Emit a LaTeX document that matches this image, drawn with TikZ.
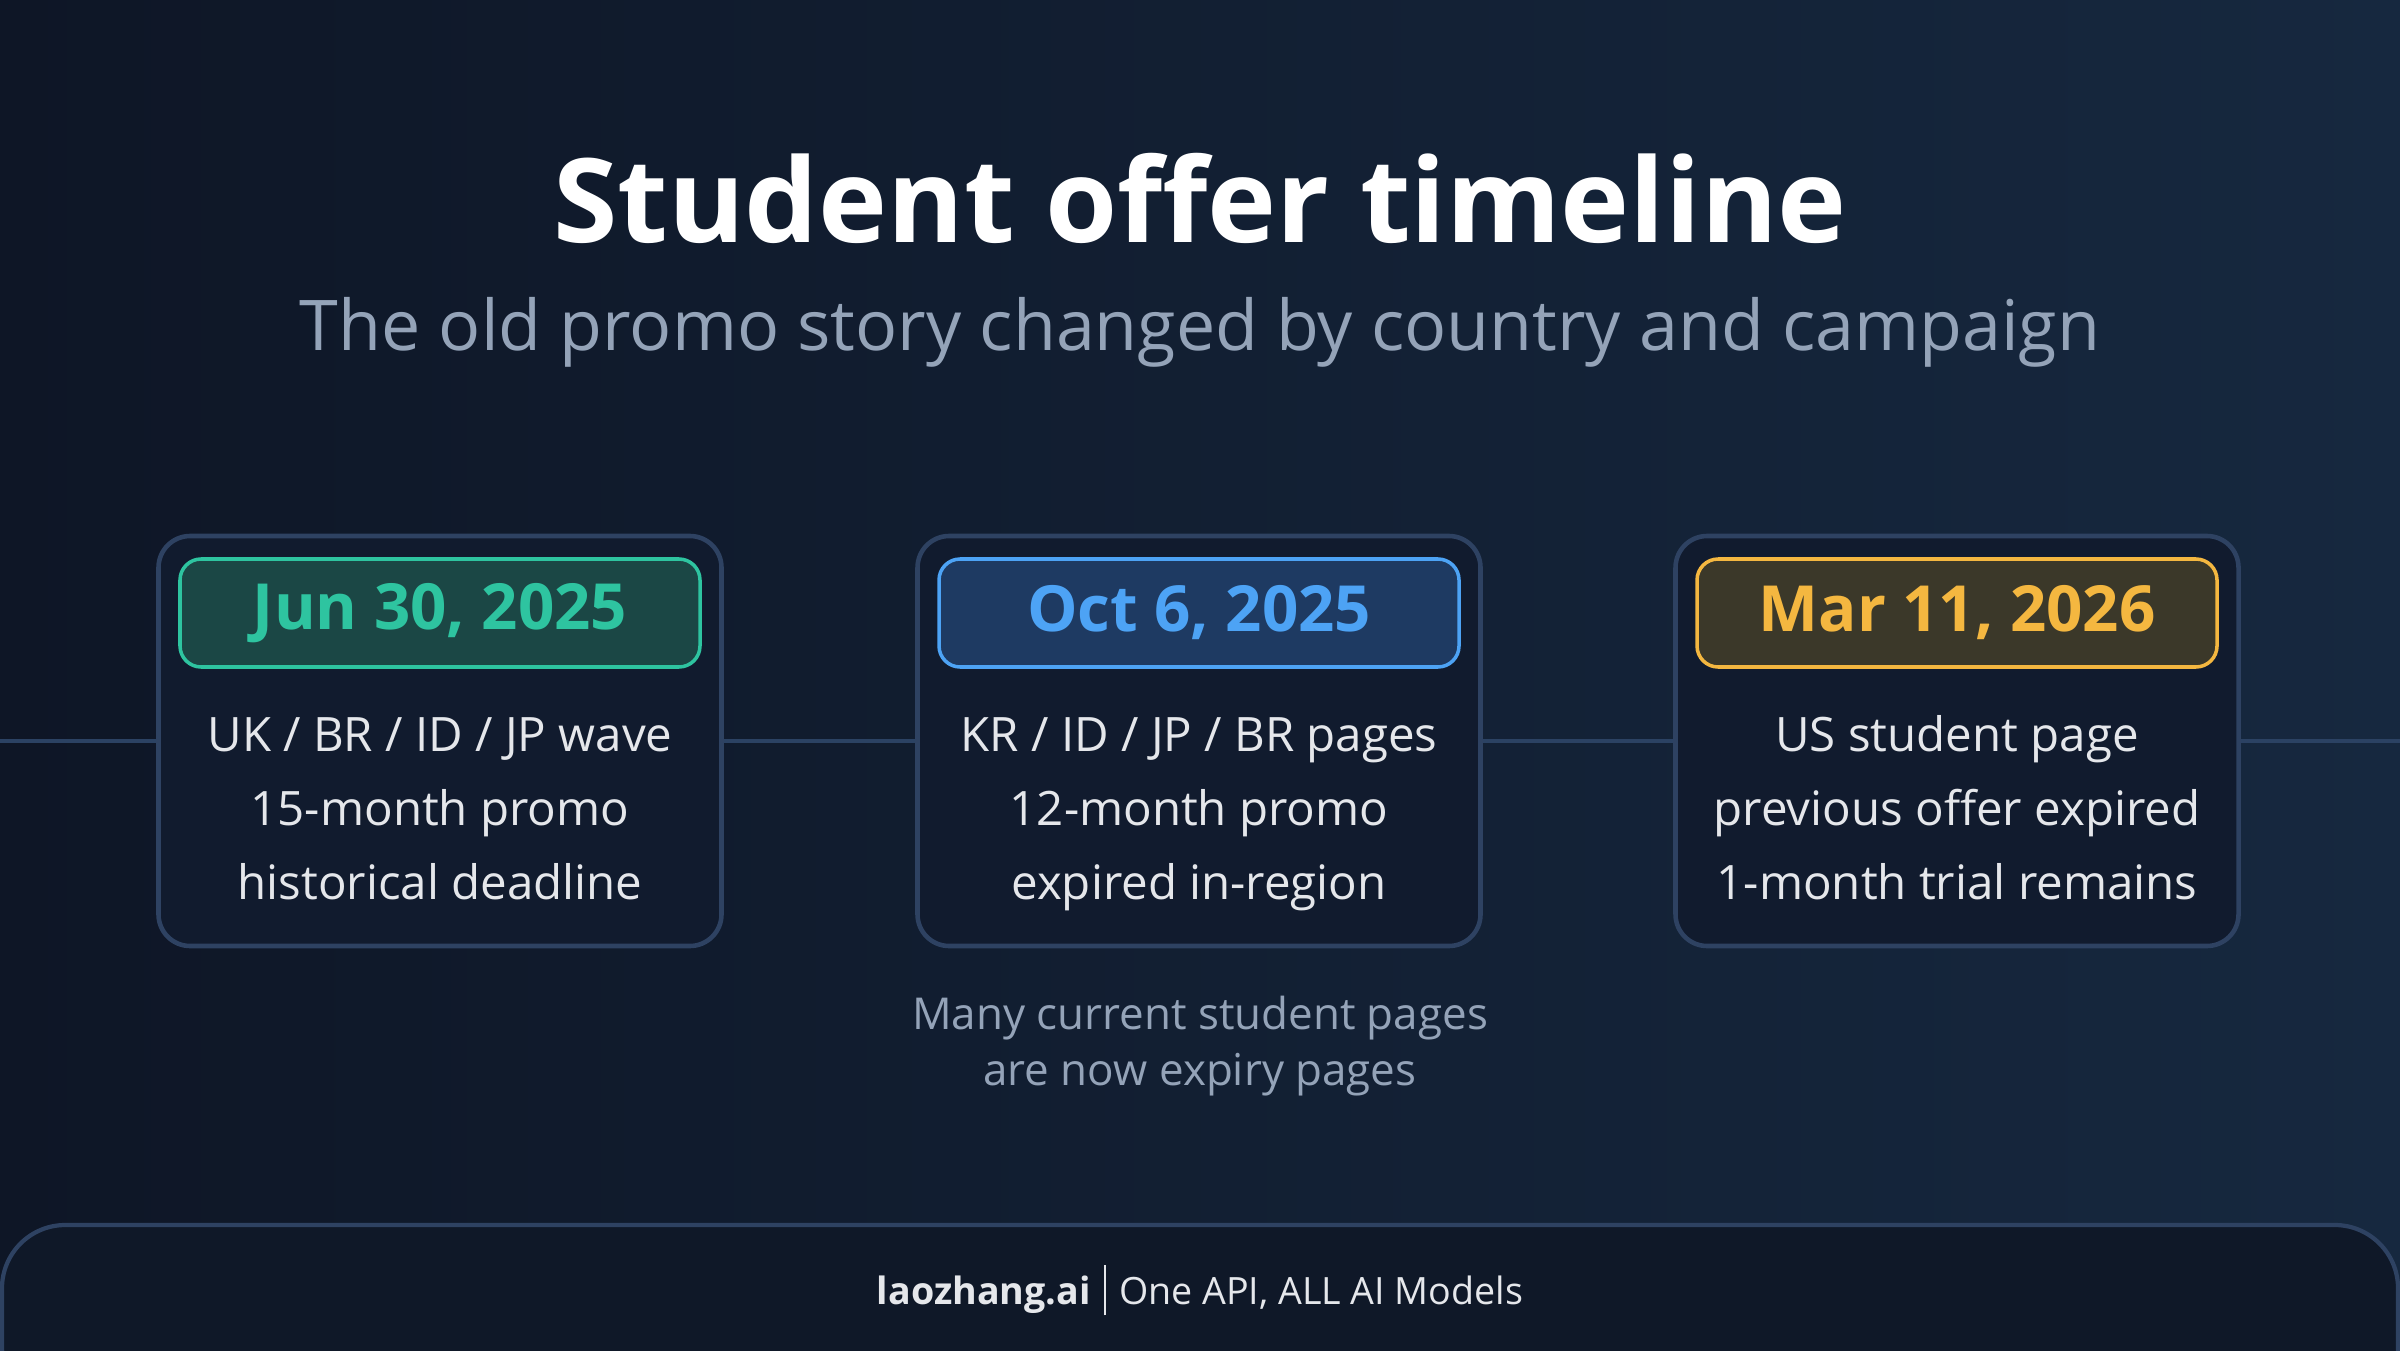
\documentclass[tikz,border=0pt]{standalone}
\usepackage{fontspec}
\setmainfont{Open Sans}
\usetikzlibrary{calc,positioning}

\definecolor{bgleft}{HTML}{0E1626}
\definecolor{bgright}{HTML}{16283F}
\definecolor{cardfill}{HTML}{111B2E}
\definecolor{cardedge}{HTML}{2E4262}
\definecolor{tline}{HTML}{2B4263}
\definecolor{subgray}{HTML}{94A3B8}
\definecolor{bodytext}{HTML}{E5E7EB}
\definecolor{tealtxt}{HTML}{2EC4A0}
\definecolor{tealfill}{HTML}{1B4745}
\definecolor{bluetxt}{HTML}{4DA3F5}
\definecolor{bluefill}{HTML}{1E3A62}
\definecolor{goldtxt}{HTML}{F4B740}
\definecolor{goldfill}{HTML}{3B3829}
\definecolor{footfill}{HTML}{0F1828}

\newcommand{\threelines}[3]{\strut #1\\#2\\#3\strut}

\begin{document}
\begin{tikzpicture}
        \tikzstyle{card} = [draw=cardedge, line width=1.3pt, fill=cardfill, rounded corners=9pt, minimum width=5.63cm, minimum height=4.1cm]
        \tikzstyle{datebox} = [line width=1pt, rounded corners=6pt, minimum width=5.2cm, minimum height=1.08cm, font=\fontsize{18.1}{21}\selectfont\bfseries]
        \tikzstyle{body} = [align=center, text=bodytext, font=\fontsize{13.5}{21}\selectfont]
        \tikzstyle{tlink} = [draw=tline, line width=1.3pt]

        % background
        \shade[left color=bgleft, right color=bgright] (0,0) rectangle (24,13.5);
        \useasboundingbox (0,0) rectangle (24,13.5);

        \node[text=white, font=\fontsize{33.2}{40}\selectfont\bfseries] (title) at (12,11.52) {Student offer timeline};
        \node[text=subgray, font=\fontsize{19.9}{24}\selectfont] (subtitle) at (12,10.18) {The old promo story changed by country and campaign};

        % cards
        \node[card] (jun) at (4.40,6.09) {};
        \node[card] (oct) at (11.99,6.09) {};
        \node[card] (mar) at (19.57,6.09) {};

        \node[datebox, draw=tealtxt, fill=tealfill, text=tealtxt] (jundate) at (4.40,7.37) {Jun 30, 2025};
        \node[datebox, draw=bluetxt, fill=bluefill, text=bluetxt] (octdate) at (11.99,7.37) {Oct 6, 2025};
        \node[datebox, draw=goldtxt, fill=goldfill, text=goldtxt] (mardate) at (19.57,7.37) {Mar 11, 2026};

        \node[body] (junbody) at (4.40,5.39) {\threelines{UK / BR / ID / JP wave}{15-month promo}{historical deadline}};
        \node[body] (octbody) at (11.99,5.39) {\threelines{KR / ID / JP / BR pages}{12-month promo}{expired in-region}};
        \node[body] (marbody) at (19.57,5.39) {\threelines{US student page}{previous offer expired}{1-month trial remains}};

        % timeline
        \coordinate (tstart) at (0,6.09);
        \coordinate (tend) at (24,6.09);
        \draw[tlink] (tstart) -- (jun.west);
        \draw[tlink] (jun.east) -- (oct.west);
        \draw[tlink] (oct.east) -- (mar.west);
        \draw[tlink] (mar.east) -- (tend);

        \node[align=center, text=subgray, font=\fontsize{12.5}{16}\selectfont] (note) at (12,3.04) {Many current student pages\\are now expiry pages};

        % footer
        \draw[draw=cardedge, line width=1.2pt, fill=footfill, rounded corners=18pt] (0.02,-0.6) rectangle (23.98,1.25);
        \node[text=bodytext, font=\fontsize{10.7}{13}\selectfont] (footer) at (12,0.6) {\textbf{laozhang.ai}\hspace{0.35em}{\color{bodytext}\rule[-0.3em]{0.6pt}{1.35em}}\hspace{0.35em}One API, ALL AI Models};
      \end{tikzpicture}
\end{document}
